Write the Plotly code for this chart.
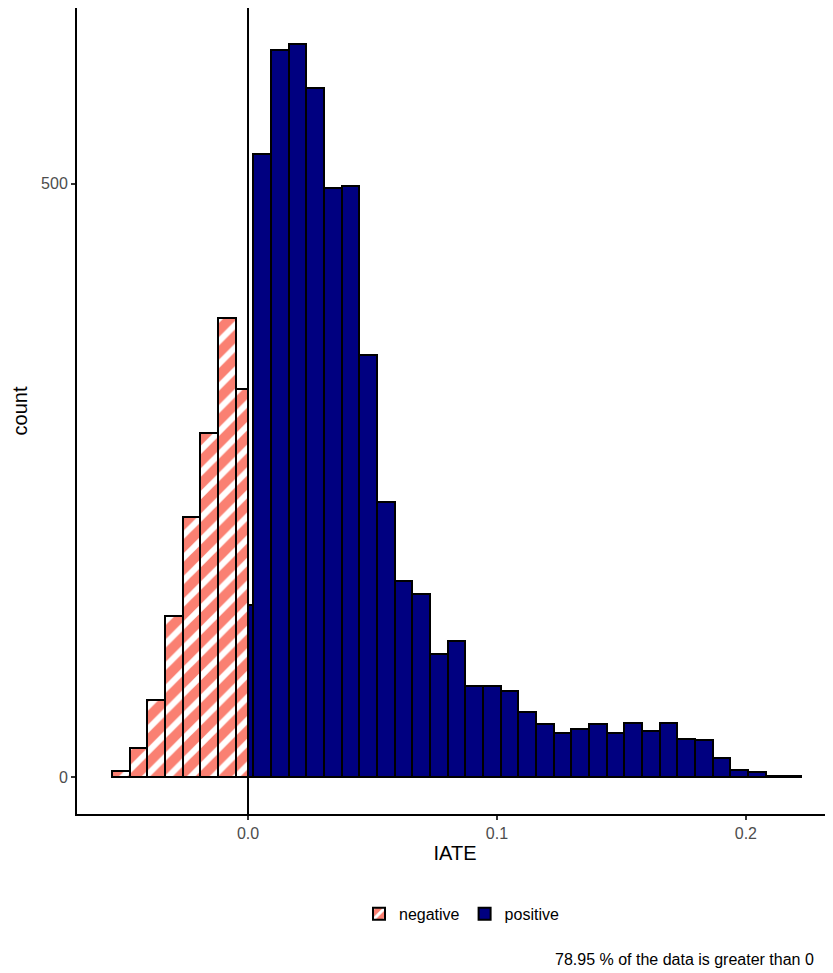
import plotly.graph_objects as go

# histogram: bin edges (IATE) and counts per bin
neg_edges = [-0.0547, -0.0476, -0.0405, -0.0334, -0.0263, -0.0192, -0.0121, -0.0050, 0.0]
neg_counts = [5, 25, 65, 136, 219, 290, 387, 327]

pos_edges = [0.0, 0.0021, 0.0092, 0.0163, 0.0234, 0.0305, 0.0376, 0.0447, 0.0518,
             0.0589, 0.0660, 0.0731, 0.0802, 0.0873, 0.0944, 0.1015, 0.1086, 0.1157,
             0.1228, 0.1299, 0.1370, 0.1441, 0.1512, 0.1583, 0.1654, 0.1725, 0.1796,
             0.1867, 0.1938, 0.2009, 0.2080, 0.2151, 0.2222]
pos_counts = [145, 525, 613, 618, 581, 496, 498, 356, 232, 165, 154, 104, 115, 77, 77,
              73, 55, 45, 37, 41, 45, 37, 46, 39, 46, 32, 31, 16, 6, 4, 1, 1]

x_ticks = [0.0, 0.1, 0.2]
x_tick_labels = ["0.0", "0.1", "0.2"]
y_ticks = [0, 500]
caption = "78.95 % of the data is greater than 0"

_SALMON = "#FA8072"
_NAVY = "#000080"
_FONT = "Liberation Sans, Arial, sans-serif"


def centers(edges):
    return [(a + b) / 2 for a, b in zip(edges[:-1], edges[1:])]


def widths(edges):
    return [b - a for a, b in zip(edges[:-1], edges[1:])]


fig = go.Figure()
fig.add_trace(go.Bar(
    name="negative", x=centers(neg_edges), y=neg_counts, width=widths(neg_edges),
    marker=dict(color=_SALMON, line=dict(color="black", width=2),
                pattern=dict(shape="/", fgcolor="white", fgopacity=1, size=16, solidity=0.38)),
))
fig.add_trace(go.Bar(
    name="positive", x=centers(pos_edges), y=pos_counts, width=widths(pos_edges),
    marker=dict(color=_NAVY, line=dict(color="black", width=2)),
))
fig.add_vline(x=0, line_color="black", line_width=2, layer="above")

fig.add_annotation(
    text=caption, xref="paper", yref="paper", x=0.6296, y=-0.181,
    xanchor="left", yanchor="middle", showarrow=False,
    font=dict(size=16, color="black"),
)

# the page body adds an 8px margin, so the figure is 8px smaller than the window
fig.update_layout(
    width=825,
    height=965,
    barmode="overlay",
    bargap=0,
    margin={"l": 69, "r": 0, "t": 0, "b": 159},
    font={"family": _FONT, "size": 16, "color": "black"},
    plot_bgcolor="white",
    paper_bgcolor="white",
    showlegend=True,
    legend=dict(orientation="h", x=0.5086, xanchor="center", y=-0.124, yanchor="middle",
                font=dict(size=16), traceorder="normal"),
)
fig.update_xaxes(
    range=[-0.0687, 0.235], tickvals=x_ticks, ticktext=x_tick_labels,
    showline=True, linecolor="black", linewidth=2, showgrid=False, zeroline=False,
    ticks="outside", ticklen=4, tickcolor="#333333", tickwidth=1.5,
    tickfont=dict(size=16, color="#4D4D4D"),
    title=dict(text="IATE", font=dict(size=20), standoff=5),
)
fig.update_yaxes(
    range=[-31, 648], tickvals=y_ticks,
    showline=True, linecolor="black", linewidth=2, showgrid=False, zeroline=False,
    ticks="outside", ticklen=4, tickcolor="#333333", tickwidth=1.5,
    tickfont=dict(size=16, color="#4D4D4D"),
    title=dict(text="count", font=dict(size=20), standoff=8),
)

fig.write_html("out.html")
